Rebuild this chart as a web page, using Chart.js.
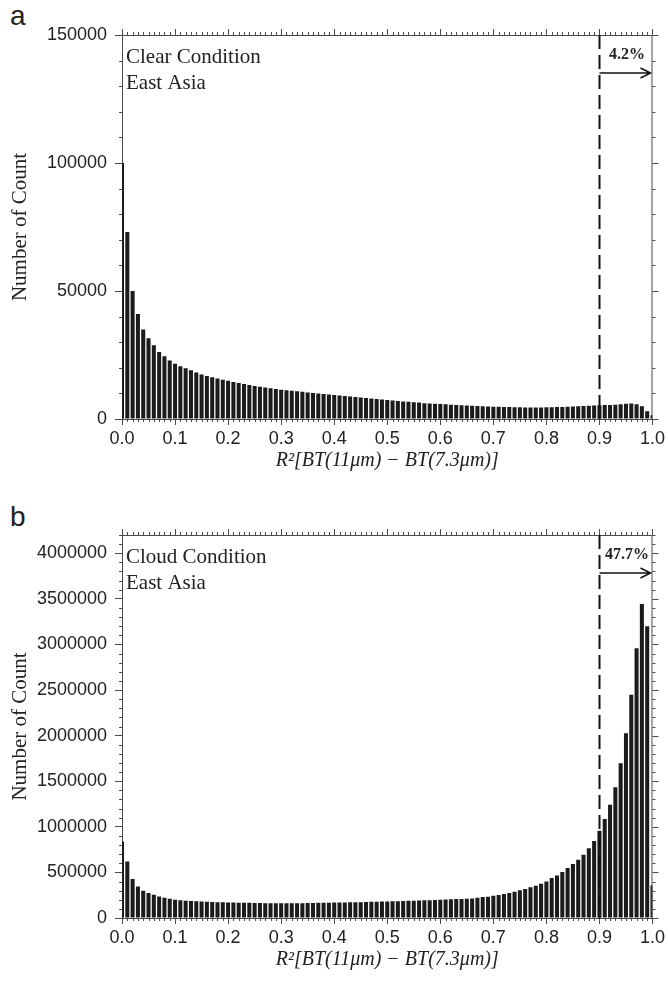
<!DOCTYPE html>
<html>
<head>
<meta charset="utf-8">
<script src="https://cdn.jsdelivr.net/npm/chart.js@4.4.0/dist/chart.umd.min.js"></script>
<style>
  html, body { margin: 0; padding: 0; background: #fff; }
  #wrap { position: relative; width: 668px; height: 981px; overflow: hidden; }
  canvas { position: absolute; left: 0; }
  .panel { position: absolute; font-family: "Liberation Sans", Arial, sans-serif; font-size: 28px; color: #222; line-height: 1; }
</style>
</head>
<body>
<div id="wrap">
  <div class="panel" style="left:10px; top:2px;">a</div>
  <canvas id="chartA" width="668" height="490" style="top:0"></canvas>
  <div class="panel" style="left:10px; top:503px;">b</div>
  <canvas id="chartB" width="668" height="491" style="top:490px"></canvas>
</div>
<script>
// bin centres of R^2
const binCenters = [
  0.00, 0.01, 0.02, 0.03, 0.04, 0.05, 0.06, 0.07, 0.08, 0.09,
  0.10, 0.11, 0.12, 0.13, 0.14, 0.15, 0.16, 0.17, 0.18, 0.19,
  0.20, 0.21, 0.22, 0.23, 0.24, 0.25, 0.26, 0.27, 0.28, 0.29,
  0.30, 0.31, 0.32, 0.33, 0.34, 0.35, 0.36, 0.37, 0.38, 0.39,
  0.40, 0.41, 0.42, 0.43, 0.44, 0.45, 0.46, 0.47, 0.48, 0.49,
  0.50, 0.51, 0.52, 0.53, 0.54, 0.55, 0.56, 0.57, 0.58, 0.59,
  0.60, 0.61, 0.62, 0.63, 0.64, 0.65, 0.66, 0.67, 0.68, 0.69,
  0.70, 0.71, 0.72, 0.73, 0.74, 0.75, 0.76, 0.77, 0.78, 0.79,
  0.80, 0.81, 0.82, 0.83, 0.84, 0.85, 0.86, 0.87, 0.88, 0.89,
  0.90, 0.91, 0.92, 0.93, 0.94, 0.95, 0.96, 0.97, 0.98, 0.99,
  1.00
];

// (a) clear condition counts
const clearCounts = [
  100000, 73000, 50000, 41000, 35000, 31500, 28800, 26200, 24500, 22900,
  21600, 20600, 19800, 19000, 18200, 17400, 16800, 16300, 15800, 15300,
  14900, 14500, 14100, 13700, 13300, 12900, 12600, 12300, 12000, 11700,
  11400, 11200, 11000, 10800, 10600, 10400, 10200, 10000, 9800, 9600,
  9400, 9200, 9000, 8800, 8600, 8400, 8200, 8000, 7800, 7600,
  7400, 7200, 7000, 6800, 6700, 6500, 6400, 6200, 6100, 6000,
  5900, 5800, 5600, 5500, 5400, 5300, 5200, 5100, 5000, 4900,
  4800, 4750, 4700, 4650, 4600, 4550, 4500, 4500, 4500, 4500,
  4550, 4600, 4650, 4700, 4800, 4900, 5000, 5100, 5200, 5300,
  5400, 5500, 5500, 5600, 5800, 6000, 6100, 5800, 5000, 3000,
  1500
];

// (b) cloud condition counts
const cloudCounts = [
  840000, 620000, 427000, 346000, 299000, 273000, 255000, 236000, 222000, 211000,
  200000, 195000, 190000, 186000, 183000, 180000, 178000, 176000, 174000, 172000,
  171000, 169000, 168000, 167000, 166000, 165000, 164000, 163000, 163000, 162000,
  162000, 162000, 162000, 163000, 163000, 164000, 165000, 166000, 167000, 168000,
  169000, 170000, 171000, 172000, 173000, 174000, 175000, 177000, 178000, 180000,
  182000, 183000, 185000, 187000, 189000, 190000, 192000, 194000, 196000, 198000,
  200000, 202000, 205000, 207000, 209000, 212000, 215000, 222000, 230000, 234000,
  245000, 252000, 263000, 274000, 288000, 303000, 318000, 337000, 354000, 376000,
  401000, 438000, 467000, 504000, 548000, 592000, 639000, 694000, 766000, 845000,
  958000, 1085000, 1243000, 1433000, 1697000, 2026000, 2447000, 2958000, 3443000, 3200000,
  360000
];

const xTicks = [0, 0.1, 0.2, 0.3, 0.4, 0.5, 0.6, 0.7, 0.8, 0.9, 1.0];
const clearTicks = [0, 50000, 100000, 150000];
const cloudTicks = [0, 500000, 1000000, 1500000, 2000000, 2500000, 3000000, 3500000, 4000000];
const threshold = 0.9;

const AXIS_COLOR = '#4a4a4a';
const BAR_COLOR = '#1b1b1b';
const SERIF = '"Liberation Serif", "Times New Roman", serif';
const SANS = '"Liberation Sans", Arial, sans-serif';

// frame, minor ticks, threshold line, arrow and labels
const framePlugin = {
  id: 'frame',
  afterDatasetsDraw(chart, args, opts) {
    const { ctx, chartArea: a, scales: { x, y } } = chart;
    ctx.save();
    ctx.strokeStyle = AXIS_COLOR;
    ctx.lineWidth = 1;
    ctx.beginPath();
    ctx.moveTo(a.left, a.top + 0.5); ctx.lineTo(a.right, a.top + 0.5);
    ctx.moveTo(a.right - 0.5, a.top); ctx.lineTo(a.right - 0.5, a.bottom);
    for (let i = 0; i <= 100; i++) {
      const px = Math.round(x.getPixelForValue(i / 100)) + 0.5;
      const major = i % 10 === 0;
      ctx.moveTo(px, a.top); ctx.lineTo(px, a.top - (major ? 6 : 3));
      if (!major) { ctx.moveTo(px, a.bottom); ctx.lineTo(px, a.bottom + 3); }
    }
    for (let v = 0; v <= y.max; v += opts.minor) {
      const py = Math.round(y.getPixelForValue(v)) + 0.5;
      const major = Math.round(v / opts.minor) % opts.per === 0;
      ctx.moveTo(a.right, py); ctx.lineTo(a.right + (major ? 6 : 3), py);
      if (!major) { ctx.moveTo(a.left, py); ctx.lineTo(a.left - 3, py); }
    }
    ctx.stroke();

    // threshold dashed line
    const tx = Math.round(x.getPixelForValue(threshold)) + 0.5;
    ctx.strokeStyle = '#111';
    ctx.lineWidth = 2;
    ctx.setLineDash([14, 6]);
    ctx.beginPath();
    ctx.moveTo(tx, a.top); ctx.lineTo(tx, a.bottom);
    ctx.stroke();
    ctx.setLineDash([]);

    // arrow
    const ay = a.top + 38;
    const ex = a.right - 2;
    ctx.lineWidth = 1.5;
    ctx.beginPath();
    ctx.moveTo(tx, ay); ctx.lineTo(ex, ay);
    ctx.moveTo(ex - 10, ay - 5); ctx.lineTo(ex, ay); ctx.lineTo(ex - 10, ay + 5);
    ctx.stroke();

    ctx.fillStyle = '#222';
    ctx.font = 'bold 16px ' + SERIF;
    ctx.textAlign = 'center';
    ctx.textBaseline = 'middle';
    ctx.fillText(opts.pct, (tx + a.right) / 2 + 1, a.top + 20);

    ctx.font = '21px ' + SERIF;
    ctx.textAlign = 'left';
    ctx.fillText(opts.line1, a.left + 4, a.top + 22);
    ctx.fillText(opts.line2, a.left + 4, a.top + 48);
    ctx.restore();
  }
};

function makeChart(id, values, yMax, yTicks, minor, padTop, padBottom, texts) {
  const ctx = document.getElementById(id).getContext('2d');
  return new Chart(ctx, {
    type: 'bar',
    data: {
      datasets: [{
        data: binCenters.map((b, i) => ({ x: b, y: values[i] })),
        backgroundColor: BAR_COLOR,
        borderWidth: 0,
        barPercentage: 0.76,
        categoryPercentage: 1.0
      }]
    },
    options: {
      responsive: false,
      animation: false,
      layout: { padding: { top: padTop, right: 13, left: 0, bottom: padBottom } },
      plugins: {
        legend: { display: false },
        tooltip: { enabled: false },
        frame: { minor: minor, per: (yTicks[1] - yTicks[0]) / minor, pct: texts.pct, line1: texts.line1, line2: texts.line2 }
      },
      scales: {
        x: {
          type: 'linear',
          min: 0,
          max: 1,
          offset: false,
          afterFit: (s) => { s.height = 63; },
          afterBuildTicks: (s) => { s.ticks = xTicks.map(v => ({ value: v })); },
          ticks: {
            font: { family: SANS, size: 18 },
            color: '#222',
            padding: 3,
            maxRotation: 0,
            callback: (v) => Number(v).toFixed(1)
          },
          grid: { drawOnChartArea: false, offset: false, tickLength: 6, tickColor: AXIS_COLOR },
          border: { color: AXIS_COLOR, width: 1 },
          title: {
            display: true,
            text: 'R\u00B2[BT(11\u03BCm) \u2212 BT(7.3\u03BCm)]',
            font: { family: SERIF, size: 20, style: 'italic' },
            color: '#222',
            padding: { top: 0, bottom: 9 }
          }
        },
        y: {
          min: 0,
          max: yMax,
          afterFit: (s) => { s.width = 122; },
          afterBuildTicks: (s) => { s.ticks = yTicks.map(v => ({ value: v })); },
          ticks: {
            font: { family: SANS, size: 18 },
            color: '#222',
            padding: 8,
            callback: (v) => String(v)
          },
          grid: { drawOnChartArea: false, tickLength: 7, tickColor: AXIS_COLOR },
          border: { color: AXIS_COLOR, width: 1 },
          title: {
            display: true,
            text: 'Number of Count',
            font: { family: SERIF, size: 21 },
            color: '#222',
            padding: { top: 8, bottom: 0 }
          }
        }
      }
    },
    plugins: [framePlugin]
  });
}

makeChart('chartA', clearCounts, 150000, clearTicks, 10000, 35, 8,
  { pct: '4.2%', line1: 'Clear Condition', line2: 'East Asia' });
makeChart('chartB', cloudCounts, 4200000, cloudTicks, 100000, 45, 0,
  { pct: '47.7%', line1: 'Cloud Condition', line2: 'East Asia' });
</script>
</body>
</html>
